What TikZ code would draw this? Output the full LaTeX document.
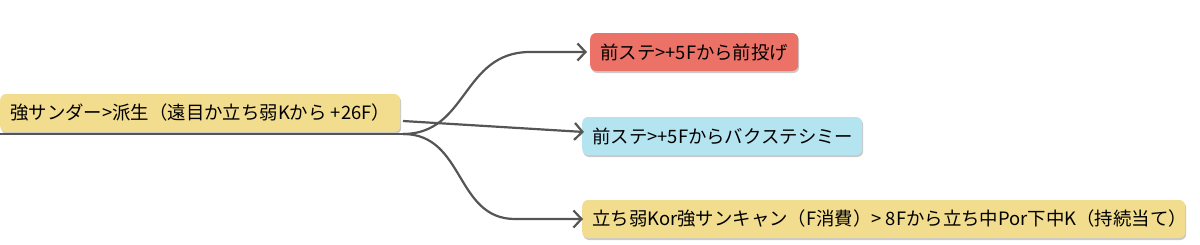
\documentclass[tikz,border=0pt]{standalone}
\usepackage{fontspec}
\setmainfont{Noto Sans CJK JP}
\usetikzlibrary{arrows.meta,shadows}
\definecolor{boxyellow}{HTML}{F2DC8E}
\definecolor{boxred}{HTML}{EC7166}
\definecolor{boxblue}{HTML}{B4E4F0}
\definecolor{linegray}{HTML}{555555}
\begin{document}
\begin{tikzpicture}[x=1pt,y=-1pt,
  mapbox/.style={rounded corners=6pt, minimum height=38pt, inner xsep=10pt, inner ysep=0pt,
    anchor=west, font=\fontsize{18.4}{21}\selectfont, text=black,
    drop shadow={shadow xshift=1pt, shadow yshift=-2pt, fill=black!35, opacity=0.6}},
  link/.style={draw=linegray, line width=2.2pt, -{Straight Barb[length=8pt,width=17pt]}},
  baseline/.style={draw=linegray, line width=2.2pt}]
\useasboundingbox (0,0) rectangle (1200,244);
\node[mapbox, fill=boxyellow] (root) at (0,113) {\makebox[380pt][l]{強サンダー>派生（遠目か立ち弱Kから +26F）}};
\node[mapbox, fill=boxred] (red) at (590,52) {\makebox[188pt][l]{前ステ>+5Fから前投げ}};
\node[mapbox, fill=boxblue] (blue) at (582,136) {\makebox[260pt][l]{前ステ>+5Fからバクステシミー}};
\node[mapbox, fill=boxyellow] (yel) at (582,219) {\makebox[583pt][l]{立ち弱Kor強サンキャン（F消費）> 8Fから立ち中Por下中K（持続当て）}};
\coordinate (start) at (0,134);
\coordinate (fork) at (403,134);
\coordinate (bfork) at (403,121);
\coordinate (bend) at (584,132);
\draw[baseline] (start) -- (fork);
\draw[link] (fork) .. controls (468,134) and (462,52) .. (530,52) -- (587,52);
\draw[link] (bfork) -- (bend);
\draw[link] (fork) .. controls (465,134) and (455,219) .. (515,219) -- (583,219);
\end{tikzpicture}
\end{document}
